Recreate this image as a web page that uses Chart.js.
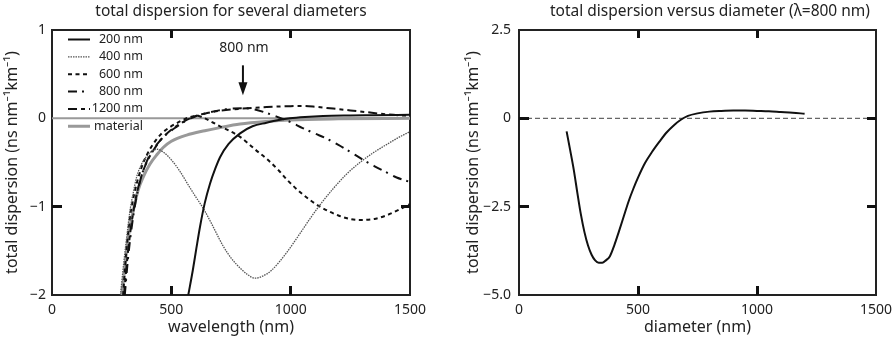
<!DOCTYPE html>
<html>
<head>
<meta charset="utf-8">
<script src="https://cdn.jsdelivr.net/npm/chart.js@4.4.1/dist/chart.umd.min.js"></script>
<style>
  html, body { margin: 0; padding: 0; background: #fff; }
  .wrap { display: flex; width: 896px; height: 340px; }
</style>
</head>
<body>
<div class="wrap">
  <canvas id="wl-chart" width="448" height="340"></canvas>
  <canvas id="dia-chart" width="448" height="340"></canvas>
</div>
<script>
// left panel: total dispersion vs wavelength, one curve per diameter  [wavelength nm, ns nm^-1 km^-1]
const d200 = [[571,-2],[590,-1.72],[605,-1.47],[620,-1.23],[640,-0.96],[662,-0.74],[684,-0.57],[704,-0.44],[740,-0.29],[788,-0.17],[840,-0.09],[899,-0.05],[950,-0.02],[997,0],[1060,0.015],[1136,0.026],[1250,0.032],[1346,0.035],[1500,0.04]]
const d400 = [[287,-2],[300,-1.65],[315,-1.3],[327,-1.04],[340,-0.85],[355,-0.66],[375,-0.52],[397,-0.43],[420,-0.37],[440,-0.35],[470,-0.39],[500,-0.47],[536,-0.6],[570,-0.75],[600,-0.88],[634,-1.02],[670,-1.2],[700,-1.36],[718,-1.45],[750,-1.58],[790,-1.7],[820,-1.77],[850,-1.81],[880,-1.79],[920,-1.72],[983,-1.52],[1040,-1.3],[1080,-1.14],[1123,-0.98],[1180,-0.79],[1235,-0.63],[1290,-0.5],[1346,-0.39],[1400,-0.3],[1450,-0.22],[1500,-0.15]]
const d600 = [[298,-2],[310,-1.55],[325,-1.15],[345,-0.85],[376,-0.55],[400,-0.4],[424,-0.29],[460,-0.17],[494,-0.1],[540,-0.03],[578,0.015],[606,0.03],[640,0],[676,-0.05],[704,-0.09],[750,-0.15],[788,-0.21],[816,-0.27],[850,-0.35],[900,-0.46],[950,-0.59],[983,-0.69],[1050,-0.86],[1123,-1],[1200,-1.1],[1250,-1.14],[1297,-1.15],[1350,-1.14],[1400,-1.1],[1450,-1.04],[1500,-0.97]]
const d800 = [[305,-2],[318,-1.6],[333,-1.25],[350,-0.95],[370,-0.7],[395,-0.5],[420,-0.37],[450,-0.26],[480,-0.18],[520,-0.1],[560,-0.03],[600,0.02],[650,0.06],[700,0.09],[750,0.11],[800,0.115],[850,0.1],[900,0.06],[950,0.01],[997,-0.04],[1050,-0.11],[1100,-0.17],[1151,-0.23],[1200,-0.3],[1250,-0.38],[1304,-0.47],[1350,-0.54],[1400,-0.61],[1444,-0.67],[1500,-0.72]]
const d1200 = [[302,-2],[315,-1.6],[330,-1.25],[350,-0.92],[375,-0.65],[400,-0.48],[430,-0.34],[460,-0.23],[500,-0.13],[550,-0.04],[606,0.03],[650,0.06],[700,0.085],[800,0.11],[900,0.128],[1000,0.138],[1050,0.14],[1100,0.132],[1178,0.11],[1250,0.09],[1318,0.07],[1400,0.045],[1458,0.034],[1500,0.03]]
const dMaterial = [[292,-2],[300,-1.82],[313,-1.49],[325,-1.25],[341,-1.04],[360,-0.82],[383,-0.66],[410,-0.52],[440,-0.41],[466,-0.33],[500,-0.26],[564,-0.19],[640,-0.14],[704,-0.105],[788,-0.065],[900,-0.035],[1000,-0.018],[1200,-0.006],[1500,0]]
const wlZero = [[0,0],[1500,0]]
const wlLabels = ['200 nm', '400 nm', '600 nm', '800 nm', '1200 nm', 'material']
const wlXTicks = [0, 500, 1000, 1500]
const wlYTicks = [-2, -1, 0, 1]
const wlYText = ['\u22122', '\u22121', '0', '1']
const arrowNote = '800 nm'
const arrowX = 800

// right panel: total dispersion at 800 nm vs diameter  [diameter nm, ns nm^-1 km^-1]
const dTotal = [[200,-0.37],[215,-0.9],[230,-1.45],[245,-2.1],[260,-2.72],[275,-3.22],[290,-3.6],[305,-3.86],[320,-4.02],[335,-4.09],[350,-4.09],[365,-4.02],[382,-3.9],[400,-3.6],[420,-3.2],[440,-2.78],[460,-2.36],[480,-2],[500,-1.68],[530,-1.26],[560,-0.94],[590,-0.66],[620,-0.4],[650,-0.2],[680,-0.04],[710,0.07],[750,0.14],[800,0.19],[850,0.21],[900,0.22],[950,0.22],[1000,0.21],[1050,0.2],[1100,0.18],[1150,0.16],[1200,0.13]]
const diaZero = [[0,0],[1500,0]]
const diaXTicks = [0, 500, 1000, 1500]
const diaYTicks = [-5, -2.5, 0, 2.5]
const diaYText = ['\u22125.0', '\u22122.5', '0', '2.5']
const innerX = [500, 1000]

Chart.defaults.font.family = '"Noto Sans", sans-serif'
Chart.defaults.color = '#222'

const pts = (arr) => arr.map(p => ({x: p[0], y: p[1]}))
const tickText = (vals, text) => (v) => {
    const i = vals.findIndex(t => Math.abs(t - v) < 1e-9)
    return i < 0 ? '' : text[i]
}

const seg = (ctx, x1, y1, x2, y2) => {
    ctx.beginPath()
    ctx.moveTo(x1, y1)
    ctx.lineTo(x2, y2)
    ctx.stroke()
}

// panel title over the plot
const makeTitle = (title, titleX) => ({
    id: 'paneltitle',
    afterDraw(chart) {
        const ctx = chart.ctx
        ctx.save()
        ctx.fillStyle = '#222'
        ctx.font = '15.5px "Noto Sans", sans-serif'
        ctx.textAlign = 'center'
        ctx.textBaseline = 'middle'
        ctx.fillText(title, titleX, 12)
        ctx.restore()
    }
})

// legend inside the plot plus the arrow note
const notesPlugin = {
    id: 'notes',
    afterDatasetsDraw(chart) {
        const {ctx, chartArea: a, scales: {x, y}} = chart
        ctx.save()
        ctx.font = '12.5px "Noto Sans", sans-serif'
        ctx.textAlign = 'right'
        ctx.textBaseline = 'middle'
        ctx.fillStyle = '#222'
        let row = 0
        chart.data.datasets.forEach(ds => {
            if (!ds.label) return
            const ly = a.top + 9.5 + row * 17.35
            ctx.strokeStyle = ds.borderColor
            ctx.lineWidth = ds.borderWidth
            ctx.setLineDash(ds.borderDash || [])
            seg(ctx, a.left + 16, ly, a.left + 38, ly)
            ctx.setLineDash([])
            ctx.fillText(ds.label, a.left + 91, ly)
            row++
        })
        // arrow pointing at the 800 nm curve
        const ax = x.getPixelForValue(arrowX)
        const top = y.getPixelForValue(0.6)
        const tip = y.getPixelForValue(0.26)
        ctx.textAlign = 'center'
        ctx.font = '14px "Noto Sans", sans-serif'
        ctx.fillText(arrowNote, ax + 1, y.getPixelForValue(0.8))
        ctx.strokeStyle = '#111'
        ctx.lineWidth = 2
        seg(ctx, ax, top, ax, tip - 10)
        ctx.fillStyle = '#111'
        ctx.beginPath()
        ctx.moveTo(ax - 4.5, tip - 13)
        ctx.lineTo(ax + 4.5, tip - 13)
        ctx.lineTo(ax, tip)
        ctx.closePath()
        ctx.fill()
        ctx.restore()
    }
}

const line = (label, data, color, width, dash, order) => ({
    label: label,
    data: pts(data),
    borderColor: color,
    borderWidth: width,
    borderDash: dash,
    pointRadius: 0,
    cubicInterpolationMode: 'monotone',
    fill: false,
    order: order
})

const frameBorder = {display: true, width: 2, color: '#222'}
const noGrid = {display: false, drawTicks: false}
// tick marks that point into the plot, drawn on top of the curves
const inGrid = (len) => ({display: true, drawOnChartArea: false, drawTicks: true, tickLength: -len, tickWidth: 3, tickColor: '#111', z: 1})

const zeroSize = (s) => {
    if (s.isHorizontal()) { s.height = 0 } else { s.width = 0 }
    s.paddingLeft = 0; s.paddingRight = 0; s.paddingTop = 0; s.paddingBottom = 0
}

// labelled bottom axis, no marks of its own
const axisX = (title, ticks) => ({
    type: 'linear',
    position: 'bottom',
    min: 0,
    max: 1500,
    weight: 1,
    afterBuildTicks: (s) => { s.ticks = ticks.map(v => ({value: v})) },
    afterFit: (s) => { s.height = 45; s.paddingLeft = 0; s.paddingRight = 0 },
    grid: noGrid,
    border: frameBorder,
    ticks: {font: {size: 14}, padding: 7, maxRotation: 0, autoSkip: false, callback: (v) => String(v)},
    title: {display: true, text: title, font: {size: 16}, padding: {top: 0, bottom: 3}}
})

// empty axis that only closes the box on the top or right side
const frameAxis = (position, min, max) => ({
    type: 'linear',
    position: position,
    min: min,
    max: max,
    weight: 0,
    afterFit: zeroSize,
    grid: noGrid,
    border: frameBorder,
    ticks: {display: false}
})

// bare axis that only carries the inner tick marks on one side
const markAxis = (position, min, max, marks, len) => ({
    type: 'linear',
    position: position,
    min: min,
    max: max,
    weight: 0,
    afterBuildTicks: (s) => { s.ticks = marks.map(v => ({value: v})) },
    afterFit: zeroSize,
    grid: inGrid(len),
    border: {display: false},
    ticks: {display: false}
})

const axisY = (min, max, ticks, text, width, titlePad, labelPad) => ({
    type: 'linear',
    position: 'left',
    min: min,
    max: max,
    weight: 1,
    afterBuildTicks: (s) => { s.ticks = ticks.map(v => ({value: v})) },
    afterFit: (s) => { s.width = width },
    grid: noGrid,
    border: frameBorder,
    ticks: {font: {size: 14}, padding: labelPad, callback: tickText(ticks, text)},
    title: {display: true, text: 'total dispersion (ns nm\u207B\u00B9km\u207B\u00B9)', font: {size: 16}, padding: {top: titlePad, bottom: 0}}
})

const wlChart = new Chart(document.getElementById('wl-chart'), {
    type: 'line',
    data: {
        datasets: [
            line(wlLabels[0], d200, '#111', 2, [], 1),
            line(wlLabels[1], d400, '#555', 1.3, [1.5, 1], 2),
            line(wlLabels[2], d600, '#111', 2, [4, 3.5], 3),
            line(wlLabels[3], d800, '#111', 2, [9, 5, 2, 6], 4),
            line(wlLabels[4], d1200, '#111', 2, [9, 4, 4, 4], 5),
            line(wlLabels[5], dMaterial, '#999', 3, [], 6),
            line('', wlZero, '#999', 2, [], 7)
        ]
    },
    options: {
        responsive: false,
        animation: false,
        layout: {padding: {left: 0, right: 38, top: 30, bottom: 0}},
        plugins: {legend: {display: false}, tooltip: {enabled: false}},
        scales: {
            x: axisX('wavelength (nm)', wlXTicks),
            xf: frameAxis('top', 0, 1500),
            xb: markAxis('bottom', 0, 1500, innerX, 9),
            xt: markAxis('top', 0, 1500, innerX, 8),
            y: axisY(-2, 1, wlYTicks, wlYText, 52, 3, 6),
            yf: frameAxis('right', -2, 1),
            yl: markAxis('left', -2, 1, [-1], 10),
            yr: markAxis('right', -2, 1, [-1], 9)
        }
    },
    plugins: [makeTitle('total dispersion for several diameters', 231), notesPlugin]
})

const diaChart = new Chart(document.getElementById('dia-chart'), {
    type: 'line',
    data: {
        datasets: [
            line('', dTotal, '#111', 2, [], 1),
            line('', diaZero, '#666', 1.3, [5, 3], 2)
        ]
    },
    options: {
        responsive: false,
        animation: false,
        layout: {padding: {left: 0, right: 20, top: 30, bottom: 0}},
        plugins: {legend: {display: false}, tooltip: {enabled: false}},
        scales: {
            x: axisX('diameter (nm)', diaXTicks),
            xf: frameAxis('top', 0, 1500),
            xb: markAxis('bottom', 0, 1500, innerX, 9),
            xt: markAxis('top', 0, 1500, innerX, 8),
            y: axisY(-5, 2.5, diaYTicks, diaYText, 71, 16, 8),
            yf: frameAxis('right', -5, 2.5),
            yl: markAxis('left', -5, 2.5, [-2.5, 0], 10),
            yr: markAxis('right', -5, 2.5, [-2.5, 0], 9)
        }
    },
    plugins: [makeTitle('total dispersion versus diameter (\u03BB=800 nm)', 262)]
})
</script>
</body>
</html>
